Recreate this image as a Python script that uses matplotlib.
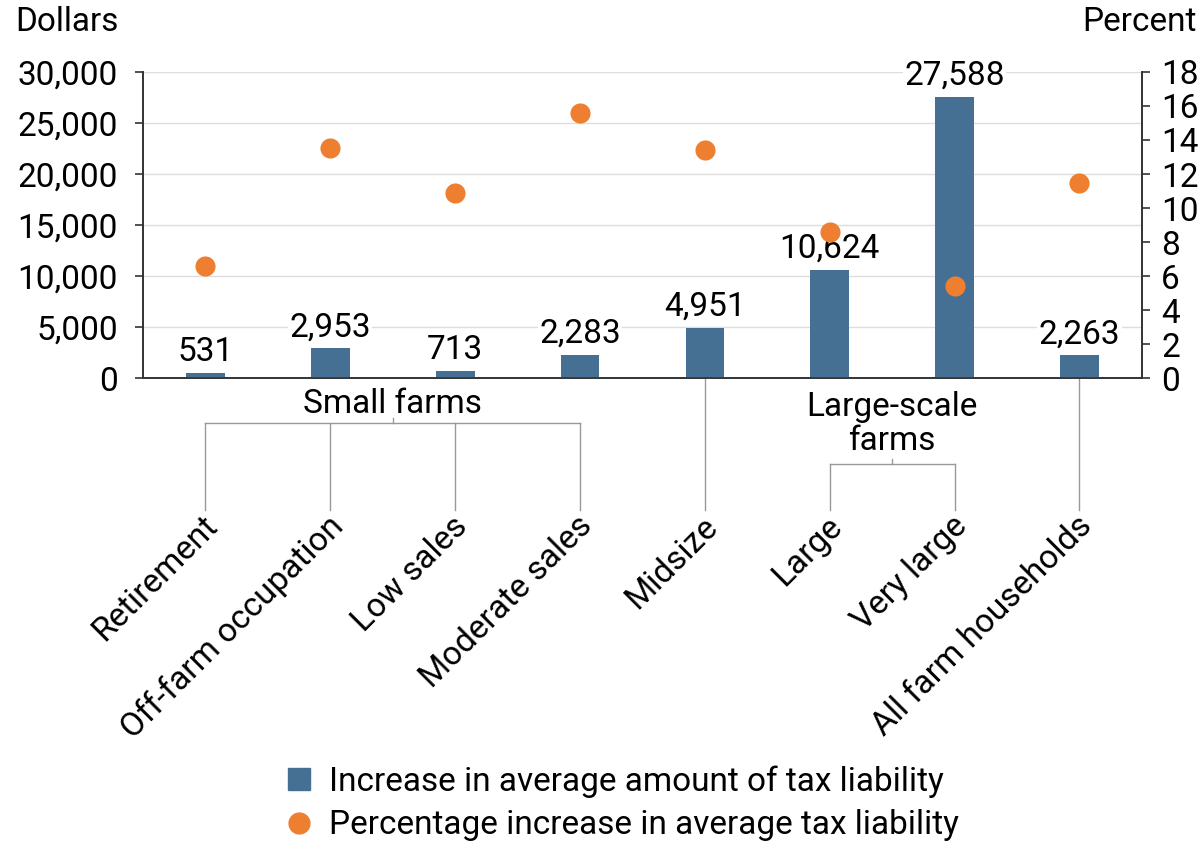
import matplotlib.pyplot as plt
from matplotlib.lines import Line2D
from matplotlib.transforms import blended_transform_factory

plt.rcParams['font.family'] = ['Roboto', 'DejaVu Sans']

categories = ["Retirement", "Off-farm occupation", "Low sales", "Moderate sales",
              "Midsize", "Large", "Very large", "All farm households"]
dollar_increase = [531, 2953, 713, 2283, 4951, 10624, 27588, 2263]
pct_increase = [6.6, 13.5, 10.9, 15.6, 13.4, 8.6, 5.4, 11.5]
left_ticks = [0, 5000, 10000, 15000, 20000, 25000, 30000]
right_ticks = [0, 2, 4, 6, 8, 10, 12, 14, 16, 18]

BLUE = "#466f94"
ORANGE = "#ef7f30"
GREY = "#999999"
FS = 24

fig = plt.figure(figsize=(12.02, 8.41), dpi=100)
ax = fig.add_axes([0.119, 0.5505, 0.831, 0.3639])
ax2 = ax.twinx()

x = list(range(len(categories)))
ax.bar(x, dollar_increase, width=0.31, color=BLUE, zorder=3)
for xi, v in zip(x, dollar_increase):
    ax.text(xi, v + 450, f"{v:,}", ha="center", va="bottom", fontsize=FS,
            bbox=dict(facecolor="white", edgecolor="none", pad=1), zorder=4)

ax2.scatter(x, pct_increase, s=210, color=ORANGE, zorder=5, linewidths=0)

ax.set_xlim(-0.5, len(categories) - 0.5)
ax.set_ylim(0, 30000)
ax2.set_ylim(0, 18)
ax.set_yticks(left_ticks)
ax.set_yticklabels([f"{t:,}" for t in left_ticks])
ax2.set_yticks(right_ticks)
ax.set_xticks([])
ax.grid(axis="y", color="#dddddd", linewidth=1, zorder=0)
ax.set_axisbelow(True)
for a in (ax, ax2):
    a.spines["top"].set_visible(False)
    for s in ("left", "right", "bottom"):
        a.spines[s].set_color("#333333")
        a.spines[s].set_linewidth(1.2)
    a.tick_params(axis="y", labelsize=FS, length=6, width=1.2, color="#333333", pad=12)
ax2.tick_params(axis="y", pad=8)

# the group brackets and category labels below the axis
px = 306.0
def yax(ypx):
    return (378 - ypx) / px

tr = blended_transform_factory(ax.transData, ax.transAxes)
def seg(xs, ys):
    ax.add_line(Line2D(xs, [yax(v) for v in ys], transform=tr, color=GREY,
                       linewidth=1, clip_on=False))

# Small farms bracket
for xi in range(4):
    seg([xi, xi], [423, 510])
seg([0, 3], [423, 423])
seg([1.5, 1.5], [423, 418])
ax.text(1.5, yax(404), "Small farms", transform=tr, ha="center", va="center", fontsize=FS)

# Midsize and all households
seg([4, 4], [378, 510])
seg([7, 7], [378, 510])

# Large-scale bracket
seg([5, 5], [464, 510])
seg([6, 6], [464, 510])
seg([5, 6], [464, 464])
seg([5.5, 5.5], [464, 459])
ax.text(5.5, yax(424), "Large-scale\nfarms", transform=tr, ha="center", va="center",
        fontsize=FS, linespacing=1.05)

for xi, name in zip(x, categories):
    ax.text(xi - 0.03, yax(510), name, transform=tr, ha="right", va="top",
            rotation=45, rotation_mode="anchor", fontsize=FS)

fig.text(15 / 1202, 1 - 22 / 841, "Dollars", ha="left", va="center", fontsize=FS)
fig.text(1197 / 1202, 1 - 22 / 841, "Percent", ha="right", va="center", fontsize=FS)

handles = [Line2D([], [], marker="s", linestyle="none", markersize=16, color=BLUE),
           Line2D([], [], marker="o", linestyle="none", markersize=15, color=ORANGE)]
fig.legend(handles, ["Increase in average amount of tax liability",
                     "Percentage increase in average tax liability"],
           loc="lower center", bbox_to_anchor=(0.515, -0.036), frameon=False,
           fontsize=FS, handletextpad=0.3, labelspacing=0.35, handlelength=1.2)

fig.savefig("out.png", dpi=100)
